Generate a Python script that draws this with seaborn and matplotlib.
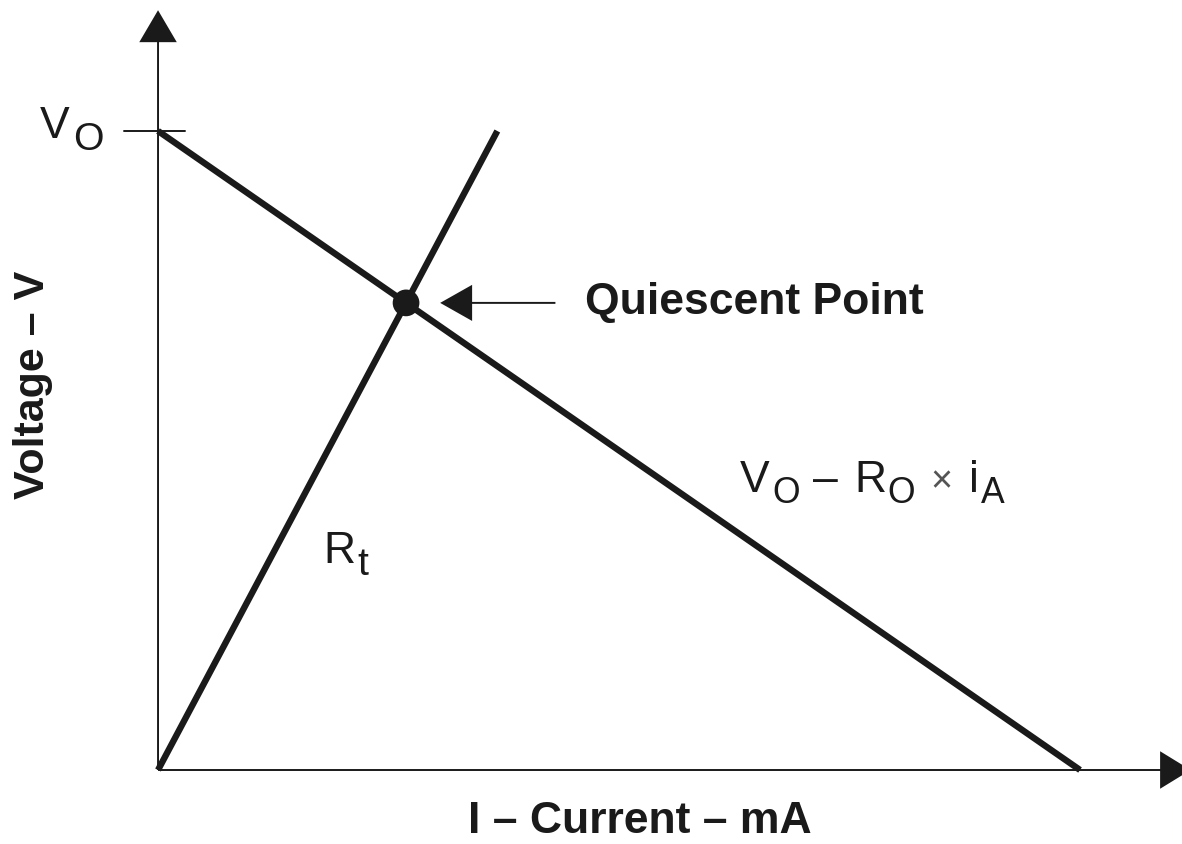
import matplotlib
matplotlib.use("Agg")
import matplotlib.pyplot as plt
from matplotlib.transforms import offset_copy
import seaborn as sns

# load line and thermistor line (current in mA, voltage in V)
load_i = [0.0, 10.0]
load_v = [10.0, 0.0]
rt_i = [0.0, 3.68]
rt_v = [0.0, 10.0]
q_i = [2.69]
q_v = [7.31]
v_open = 10.0

sns.set_theme(style="white")
plt.rcParams["font.family"] = ["Liberation Sans", "DejaVu Sans"]

ink = "#1a1a1a"

fig = plt.figure(figsize=(11.82, 8.44), dpi=100)
ax = fig.add_axes([0, 0, 1, 1])
ax.set_xlim(-1.714, 11.106)
ax.set_ylim(-1.158, 12.05)
ax.axis("off")
renderer = fig.canvas.get_renderer()


def sub_label(x, y, parts, size=32, sub_scale=0.8, drop=11):
    # parts: (text, is_subscript, gap_before_px, colour, size factor)
    dx = 0.0
    for s, is_sub, gap, col, f in parts:
        dx += gap
        fs = size * (sub_scale if is_sub else 1.0) * f
        tr = offset_copy(ax.transData, fig=fig, x=dx, y=-drop if is_sub else 0,
                         units="dots")
        t = ax.text(x, y, s, transform=tr, fontsize=fs, color=col,
                    ha="left", va="baseline")
        dx += t.get_window_extent(renderer).width


# axes with arrow heads
ax.annotate("", xy=(0, 11.89), xytext=(0, 0), annotation_clip=False,
            arrowprops=dict(width=1.4, headwidth=27, headlength=23, color=ink, lw=0))
ax.annotate("", xy=(11.2, 0), xytext=(0, 0), annotation_clip=False,
            arrowprops=dict(width=1.4, headwidth=27, headlength=22, color=ink, lw=0))
ax.plot([-0.37, 0.29], [v_open, v_open], color=ink, lw=1.4)

sns.lineplot(x=load_i, y=load_v, ax=ax, color=ink, lw=4.6, solid_capstyle="butt")
sns.lineplot(x=rt_i, y=rt_v, ax=ax, color=ink, lw=4.6, solid_capstyle="butt")
sns.scatterplot(x=q_i, y=q_v, ax=ax, color=ink, s=370, edgecolor="none", zorder=5)

ax.annotate("", xy=(3.06, q_v[0]), xytext=(4.31, q_v[0]),
            arrowprops=dict(width=1.4, headwidth=26, headlength=23, color=ink, lw=0))
ax.text(4.63, q_v[0], "Quiescent Point", fontsize=32, fontweight="bold",
        color=ink, ha="left", va="center")

sub_label(-1.28, 9.89, [("V", False, 0, ink, 1), ("O", True, 3, ink, 1)],
          sub_scale=0.88, drop=12)
sub_label(6.31, 4.35, [("V", False, 0, ink, 1), ("O", True, 3, ink, 1),
                       ("–", False, 13, ink, 1), ("R", False, 16, ink, 1),
                       ("O", True, 1, ink, 1), ("×", False, 16, "#555555", 0.85),
                       ("i", False, 16, ink, 1), ("A", True, 2, ink, 1)])
sub_label(1.79, 3.24, [("R", False, 0, ink, 1), ("t", True, 2, ink, 1)],
          sub_scale=0.88, drop=12)

ax.text(5.23, -0.81, "I – Current – mA", fontsize=32, fontweight="bold",
        color=ink, ha="center", va="center")
ax.text(-1.36, 6.02, "Voltage – V", fontsize=31, fontweight="bold",
        color=ink, ha="center", va="center", rotation=90)

fig.savefig("out.png", dpi=100)
